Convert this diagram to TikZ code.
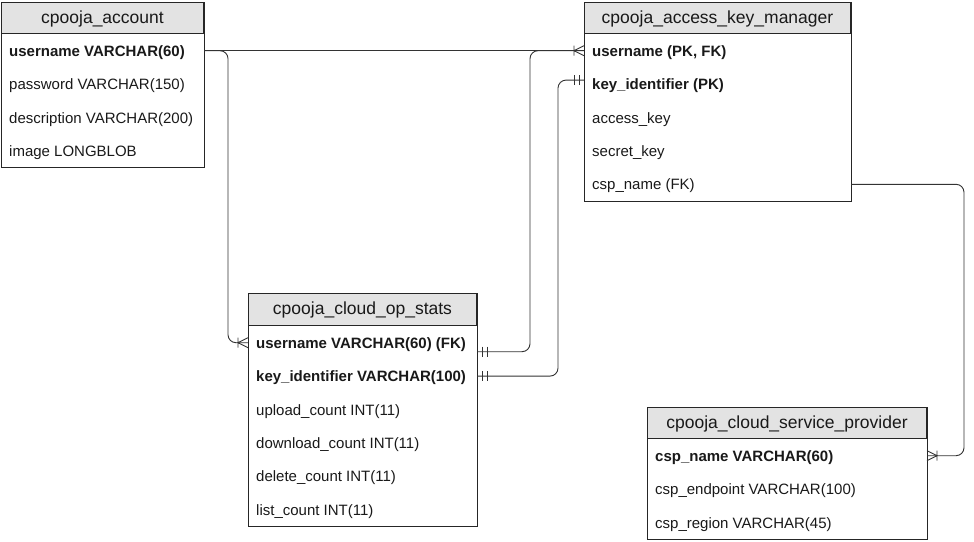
\documentclass[tikz,border=0pt]{standalone}
\usepackage{fontspec}
\setmainfont{Liberation Sans}
\usetikzlibrary{positioning,calc}
\definecolor{headgray}{HTML}{E3E3E3}
\definecolor{edgegray}{HTML}{333333}
\tikzset{
  crowfoot/.pic={\draw[edgegray,line width=0.9pt] (0,-5) -- (10,0) -- (0,5) (10,-5) -- (10,5);},
  onlyone/.pic={\draw[edgegray,line width=0.9pt] (5,-5) -- (5,5) (10,-5) -- (10,5);}
}
\begin{document}
\begin{tikzpicture}[x=1pt,y=-1pt]
  \tikzstyle{every node}=[text=black!90]
  \tikzstyle{head}=[draw=black!85, fill=headgray, line width=1pt, anchor=north west, minimum height=31pt, inner sep=0pt, font=\fontsize{17.5}{20}\selectfont, text height=13pt, text depth=3pt]
  \tikzstyle{field}=[anchor=north west, minimum height=33pt, inner ysep=0pt, inner xsep=8pt, font=\fontsize{15}{18}\selectfont, text height=12pt, text depth=1pt]
  \tikzstyle{key}=[field, font=\fontsize{15}{18}\selectfont\bfseries]
  \tikzstyle{box}=[draw=black!85, line width=1pt]
  \tikzstyle{rel}=[draw=edgegray, line width=0.9pt, rounded corners=8pt]
  \useasboundingbox (0,0) rectangle (974,541);

  % cpooja_account
  \node[head, minimum width=202pt] (acc) at (1,2) {cpooja\_account};
  \node[key, below right=0pt of acc.south west] (acc-r1) {username VARCHAR(60)};
  \node[field, below right=0pt of acc-r1.south west] (acc-r2) {password VARCHAR(150)};
  \node[field, below right=0pt of acc-r2.south west] (acc-r3) {description VARCHAR(200)};
  \node[field, below right=0pt of acc-r3.south west] (acc-r4) {image LONGBLOB};
  \draw[box] (acc.north west) rectangle (acc.east |- acc-r4.south);

  % cpooja_access_key_manager
  \node[head, minimum width=266pt] (akm) at (584,2) {cpooja\_access\_key\_manager};
  \node[key, below right=0pt of akm.south west] (akm-r1) {username (PK, FK)};
  \node[key, below right=0pt of akm-r1.south west] (akm-r2) {key\_identifier (PK)};
  \node[field, below right=0pt of akm-r2.south west] (akm-r3) {access\_key};
  \node[field, below right=0pt of akm-r3.south west] (akm-r4) {secret\_key};
  \node[field, below right=0pt of akm-r4.south west] (akm-r5) {csp\_name (FK)};
  \draw[box] (akm.north west) rectangle (akm.east |- akm-r5.south);

  % cpooja_cloud_op_stats
  \node[head, minimum width=228pt, minimum height=32pt] (ops) at (248,293) {cpooja\_cloud\_op\_stats};
  \node[key, below right=0pt of ops.south west] (ops-r1) {username VARCHAR(60) (FK)};
  \node[key, below right=0pt of ops-r1.south west] (ops-r2) {key\_identifier VARCHAR(100)};
  \node[field, below right=0pt of ops-r2.south west] (ops-r3) {upload\_count INT(11)};
  \node[field, below right=0pt of ops-r3.south west] (ops-r4) {download\_count INT(11)};
  \node[field, below right=0pt of ops-r4.south west] (ops-r5) {delete\_count INT(11)};
  \node[field, below right=0pt of ops-r5.south west] (ops-r6) {list\_count INT(11)};
  \draw[box] (ops.north west) rectangle (ops.east |- ops-r6.south);

  % cpooja_cloud_service_provider
  \node[head, minimum width=279pt] (csp) at (647,407) {cpooja\_cloud\_service\_provider};
  \node[key, below right=0pt of csp.south west] (csp-r1) {csp\_name VARCHAR(60)};
  \node[field, below right=0pt of csp-r1.south west] (csp-r2) {csp\_endpoint VARCHAR(100)};
  \node[field, below right=0pt of csp-r2.south west] (csp-r3) {csp\_region VARCHAR(45)};
  \draw[box] (csp.north west) rectangle (csp.east |- csp-r3.south);

  % connector ends
  \coordinate (acc-user) at (acc.east |- acc-r1);
  \coordinate (akm-user) at (akm.west |- akm-r1);
  \coordinate (akm-key) at ($(akm.west |- akm-r2)+(0,-4)$);
  \coordinate (akm-csp) at (akm.east |- akm-r5);
  \coordinate (ops-user) at (ops.west |- ops-r1);
  \coordinate (ops-fk1) at ($(ops.east |- ops-r1)+(0,9)$);
  \coordinate (ops-fk2) at (ops.east |- ops-r2);
  \coordinate (csp-name) at (csp.east |- csp-r1);

  % relations
  \draw[rel] (acc-user) -- (akm-user);
  \draw[rel] (acc-user) -| ($(ops-user)+(-20,0)$) -- (ops-user);
  \draw[rel] (ops-fk1) -| ($(akm-user)+(-54,0)$) -- (akm-user);
  \draw[rel] (ops-fk2) -| ($(akm-key)+(-26,0)$) -- (akm-key);
  \draw[rel] (akm-csp) -| ($(csp-name)+(37,0)$) -- (csp-name);

  \pic[rotate=180] at (akm-user) {crowfoot};
  \pic[rotate=180] at (ops-user) {crowfoot};
  \pic at (csp-name) {crowfoot};
  \pic at (ops-fk1) {onlyone};
  \pic at (ops-fk2) {onlyone};
  \pic[rotate=180] at (akm-key) {onlyone};
\end{tikzpicture}
\end{document}
